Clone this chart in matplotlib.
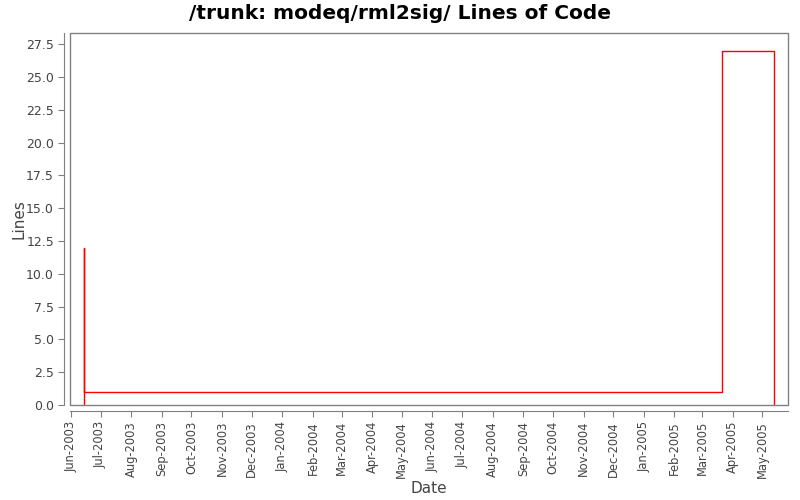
import matplotlib
matplotlib.use("Agg")
import matplotlib.pyplot as plt
import matplotlib.dates as mdates
import numpy as np
from matplotlib.patches import Rectangle

# data
dates = np.array(["2003-06-14T00", "2003-06-14T00", "2003-06-14T01",
                  "2005-03-21T00", "2005-05-13T00"], dtype="datetime64[h]")
lines = [0, 12, 1, 27, 0]
tick_months = np.arange("2003-06", "2005-06", dtype="datetime64[M]").astype("datetime64[D]")
y_ticks = np.arange(0, 28, 2.5)

plt.rcParams["font.family"] = "DejaVu Sans"
grey = "#808080"
txt = "#444444"

fig = plt.figure(figsize=(8, 5), dpi=100)
ax = fig.add_axes([70 / 800, 1 - 405 / 500, 718 / 800, 372 / 500])

ax.plot(dates.astype("datetime64[s]").astype(object), lines, color="red",
        lw=1, drawstyle="steps-post")

ax.set_xlim(mdates.date2num(np.datetime64("2003-05-31")),
            mdates.date2num(np.datetime64("2005-05-27")))
ax.set_ylim(0, 28.35)

ax.set_xticks(mdates.date2num(tick_months))
ax.xaxis.set_major_formatter(mdates.DateFormatter("%b-%Y"))
ax.set_yticks(y_ticks)
ax.set_yticklabels([f"{v:.1f}" for v in y_ticks])
ax.tick_params(axis="x", rotation=90, labelsize=8.3, colors=grey, labelcolor=txt, length=4)
ax.tick_params(axis="y", labelsize=9, colors=grey, labelcolor=txt, length=4)

# frame around the plot area, axes lines pushed out a little
ax.add_patch(Rectangle((0, 0), 1, 1, transform=ax.transAxes, fill=False,
                       edgecolor=grey, lw=1, clip_on=False, zorder=5))
for s in ["top", "right"]:
    ax.spines[s].set_visible(False)
for s in ["left", "bottom"]:
    ax.spines[s].set_position(("outward", 4))
    ax.spines[s].set_color(grey)

ax.set_xlabel("Date", fontsize=11, color=txt, labelpad=2)
ax.set_ylabel("Lines", fontsize=11, color=txt, labelpad=0)
fig.suptitle("/trunk: modeq/rml2sig/ Lines of Code", fontsize=14.5,
             fontweight="bold", y=0.992, va="top")

fig.savefig("out.png", dpi=100)
